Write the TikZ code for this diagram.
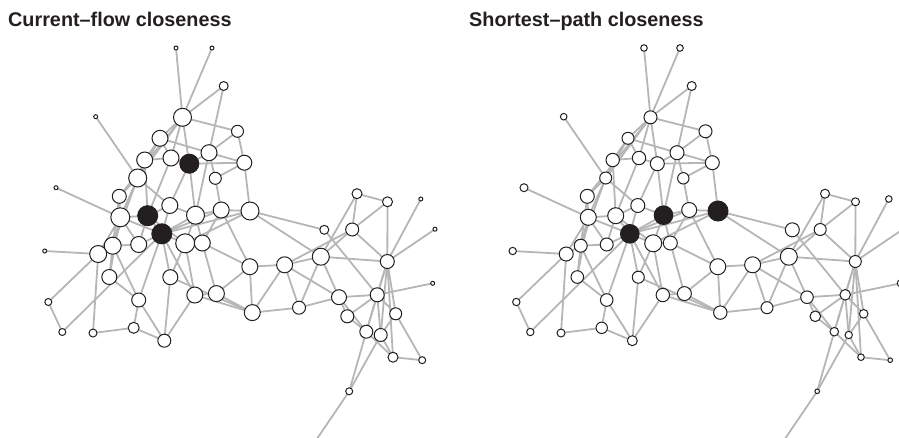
\documentclass[tikz,border=0pt]{standalone}
\usepackage{fontspec}
\setmainfont{Liberation Sans}
\pgfdeclarelayer{bg}
\pgfsetlayers{bg,main}
\definecolor{edgegray}{RGB}{182,182,182}
\definecolor{nodeblack}{RGB}{35,31,32}
\begin{document}
\begin{tikzpicture}[x=1pt,y=-1pt,
  vtx/.style={circle, draw=nodeblack, line width=1pt, inner sep=0pt, outer sep=0pt},
  edge/.style={draw=edgegray, line width=1.8pt},
  title/.style={anchor=base west, inner sep=0pt, font=\fontsize{19.8}{22}\selectfont\bfseries, text=nodeblack}]
\useasboundingbox (0,0) rectangle (899,437);
\clip (0,0) rectangle (899,437);
\node[title] (t1) at (8,26) {Current–flow closeness};
\node[title] (t2) at (469,26) {Shortest–path closeness};
\foreach \i/\x/\y/\a/\b/\c in {
1/176/48/2/3.3/0, 2/212/48/2/3.3/0, 3/223.7/86/4.5/4.5/0, 4/182.5/117.3/9/6.5/0,
5/95.7/116.7/2/3.3/0, 6/237.5/131.3/6/6.5/0, 7/160/138.3/8/6/0, 8/209/152.7/8/7/0,
9/189.3/163.7/9.5/7/1, 10/171/158/8/6.7/0, 11/144.7/160/8/6.7/0, 12/244.3/162.7/7.5/7/0,
13/215.3/178.3/6/5.7/0, 14/137.7/178/9/6/0, 15/56/187.7/2/4/0, 16/119.3/196.3/7/7/0,
17/357/193.7/5/4.5/0, 18/387.5/201.8/5/4/0, 19/420.8/199/2/3.3/0, 20/169.8/205.5/8/7/0,
21/120.3/217.3/9.5/8/0, 22/147.7/215.7/10/8/1, 23/195.5/215.2/9/9.3/2, 24/221.2/210/8/7.5/0,
25/250/211/9/10/2, 26/161.8/233.8/10/9.3/3, 27/324.3/229.8/4.5/7/0, 28/352.2/229.5/6.5/6/0,
29/435/229.2/2/3/0, 30/112.7/245.7/8.5/6.5/0, 31/98.2/254/8.5/7/0, 32/138.7/244.5/8/6.5/0,
33/185.2/243.3/9.5/8.5/0, 34/202.3/243/8/7/0, 35/44.7/251/2/3.7/0, 36/249.8/266.7/8/8/0,
37/284.6/264.8/8/8/0, 38/320.8/256.7/8.5/8.5/0, 39/387.3/261.5/7/6/0, 40/432.7/283.3/2/3.5/0,
41/109.3/277/7.5/6.3/0, 42/170.3/277.2/7.5/6/0, 43/194.8/295/8/6.7/0, 44/216.4/293.6/8/7/0,
45/48.3/302/3.5/3.7/0, 46/138.7/300/7/6.3/0, 47/339/297.2/7.5/6.3/0, 48/377.2/294.8/7/5.3/0,
49/252.3/312.6/8/6.7/0, 50/299/307.7/6.5/6/0, 51/347.3/316.3/6.5/5.3/0, 52/395.7/313.8/6/4.3/0,
53/62.3/332/3.5/3.7/0, 54/93/333/4/4/0, 55/133.7/327.8/5.5/5.7/0, 56/164.3/340.7/6.5/5/0,
57/366.3/331.7/6.5/4.3/0, 58/380.7/335/6.5/3.7/0, 59/393/357.2/5/3.3/0, 60/422.2/360.2/3.5/2.3/0,
61/349.2/391.3/3.5/2.3/0}{
  \ifodd\c \def\lf{nodeblack}\else\def\lf{white}\fi
  \ifnum\c>1 \def\rf{nodeblack}\else\def\rf{white}\fi
  \node[vtx, minimum size=\a*2pt, fill=\lf] (L\i) at (\x,\y) {};
  \node[vtx, minimum size=\b*2pt, fill=\rf] (R\i) at (\x+468,\y) {};
}
\coordinate (Lout) at (309.4,450);
\coordinate (Rout) at (777.4,450);
\begin{pgfonlayer}{bg}
\clip (0,0) rectangle (899,437);
\foreach \p/\q in {
1/4, 2/4, 3/4, 3/8, 4/6, 6/8, 6/12, 4/7, 4/10, 4/9, 4/14, 4/16, 5/14, 15/21,
7/11, 7/10, 7/8, 10/9, 11/10, 8/9, 8/12, 9/12, 8/13, 12/13, 13/24, 12/25, 9/23, 8/23, 9/20,
11/14, 14/16, 14/20, 16/21, 14/21, 11/22, 10/22, 7/14,
21/22, 22/20, 20/23, 23/24, 24/25, 22/26, 21/26, 26/23, 26/33, 33/34, 26/32, 30/21, 31/30,
31/21, 30/32, 21/32, 22/32, 20/26, 26/24, 26/25, 33/25, 22/33, 23/33, 34/24, 23/34,
16/30, 14/30,
31/35, 31/45, 31/54, 45/53, 53/26, 30/41, 21/41, 41/46, 30/46, 26/46, 46/55, 46/56, 55/56, 54/55,
42/56, 42/49, 42/33, 42/26, 43/49, 44/49, 43/44, 43/56, 33/43, 34/44, 44/36, 34/36, 24/36, 26/43,
36/37, 36/49, 37/38, 37/49, 37/50, 49/50, 38/50, 38/47, 37/47, 25/27, 25/38, 17/18, 17/38, 17/28,
28/37, 28/18, 28/39, 27/48, 18/39, 19/39, 29/39, 38/39, 40/48, 47/48, 39/48, 47/50, 47/57, 47/51,
48/51, 48/57, 48/58, 48/52, 39/52, 52/58, 52/60, 59/60, 51/57, 57/59, 58/59, 61/57, 61/58, 61/out,
39/57, 39/59, 39/58, 38/28}{
  \draw[edge] (L\p) -- (L\q);
  \draw[edge] (R\p) -- (R\q);
}
\end{pgfonlayer}
\end{tikzpicture}
\end{document}
